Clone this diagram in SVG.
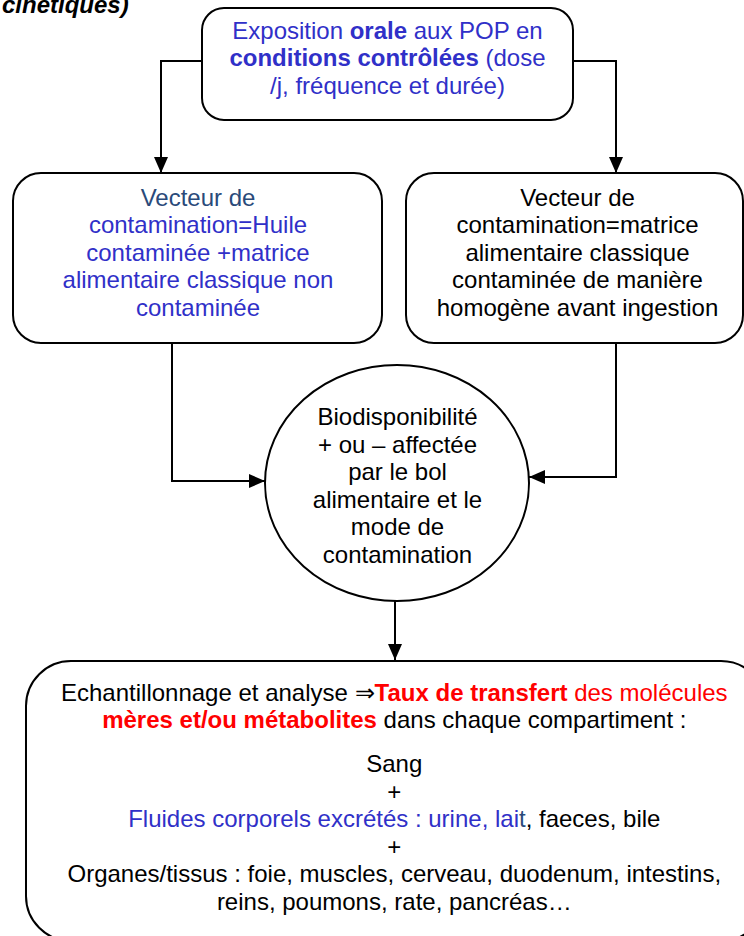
<svg xmlns="http://www.w3.org/2000/svg" width="744" height="936" viewBox="0 0 744 936">
<style>
  text { font-family: "Liberation Sans", Arial, sans-serif; font-size: 24px; text-anchor: middle; fill: #000; }
  .box { fill: #fff; stroke: #000; stroke-width: 2; }
  .blue { fill: #3030C8; }
  .navy { fill: #2A4A7A; }
  .red { fill: #FF0000; }
  .b { font-weight: bold; }
  .conn { fill: none; stroke: #000; stroke-width: 2; }
</style>
<defs>
  <marker id="arrow" viewBox="0 0 16 14" refX="16" refY="7" markerWidth="16" markerHeight="14" markerUnits="userSpaceOnUse" orient="auto">
    <path d="M0,0 L16,7 L0,14 z" fill="#000"/>
  </marker>
</defs>
<rect width="744" height="936" fill="#fff"/>

<text x="2" y="13" style="text-anchor:start;font-weight:bold;font-style:italic">cinétiques)</text>

<g id="connectors">
  <path class="conn" d="M202,61 H161 V173" marker-end="url(#arrow)"/>
  <path class="conn" d="M573,61 H616 V173" marker-end="url(#arrow)"/>
  <path class="conn" d="M172,343 V481 H265" marker-end="url(#arrow)"/>
  <path class="conn" d="M616,343 V477 H529" marker-end="url(#arrow)"/>
  <path class="conn" d="M395,601 V660" marker-end="url(#arrow)"/>
</g>

<g id="node-exposition">
  <rect class="box" x="202" y="8" width="371" height="112" rx="22"/>
  <text x="387.5" y="38.5" class="blue">Exposition <tspan class="b">orale</tspan> aux POP en</text>
  <text x="387.5" y="66" class="blue"><tspan class="b">conditions contrôlées</tspan> (dose</text>
  <text x="387.5" y="93.5" class="blue">/j, fréquence et durée)</text>
</g>

<g id="node-huile">
  <rect class="box" x="13" y="173" width="369" height="170" rx="28"/>
  <text x="198" y="205.7" class="navy">Vecteur de</text>
  <text x="198" y="233.2" class="blue">contamination=Huile</text>
  <text x="198" y="260.7" class="blue">contaminée +matrice</text>
  <text x="198" y="288.2" class="blue">alimentaire classique non</text>
  <text x="198" y="315.7" class="blue">contaminée</text>
</g>

<g id="node-matrice">
  <rect class="box" x="406" y="173" width="337" height="170" rx="28"/>
  <text x="577.5" y="205.7">Vecteur de</text>
  <text x="577.5" y="233.2">contamination=matrice</text>
  <text x="577.5" y="260.7">alimentaire classique</text>
  <text x="577.5" y="288.2">contaminée de manière</text>
  <text x="577.5" y="315.7">homogène avant ingestion</text>
</g>

<g id="node-biodisponibilite">
  <ellipse class="box" cx="397" cy="483" rx="132" ry="118"/>
  <text x="397.5" y="425">Biodisponibilité</text>
  <text x="397.5" y="452.5">+ ou – affectée</text>
  <text x="397.5" y="480">par le bol</text>
  <text x="397.5" y="507.5">alimentaire et le</text>
  <text x="397.5" y="535">mode de</text>
  <text x="397.5" y="562.5">contamination</text>
</g>

<g id="node-echantillonnage">
  <rect class="box" x="26" y="661" width="740" height="280" rx="45"/>
  <text x="394.3" y="700.7">Echantillonnage et analyse ⇒<tspan class="red b">Taux de transfert</tspan><tspan class="red"> des molécules</tspan></text>
  <text x="394.3" y="728.2"><tspan class="red b">mères et/ou métabolites</tspan> dans chaque compartiment :</text>
  <text x="394.3" y="772">Sang</text>
  <text x="394.3" y="799.5">+</text>
  <text x="394.3" y="827"><tspan class="blue">Fluides corporels excrétés : urine, lai</tspan><tspan class="navy">t</tspan>, faeces, bile</text>
  <text x="394.3" y="854.5">+</text>
  <text x="394.3" y="882">Organes/tissus : foie, muscles, cerveau, duodenum, intestins,</text>
  <text x="394.3" y="909.5">reins, poumons, rate, pancréas…</text>
</g>
</svg>
